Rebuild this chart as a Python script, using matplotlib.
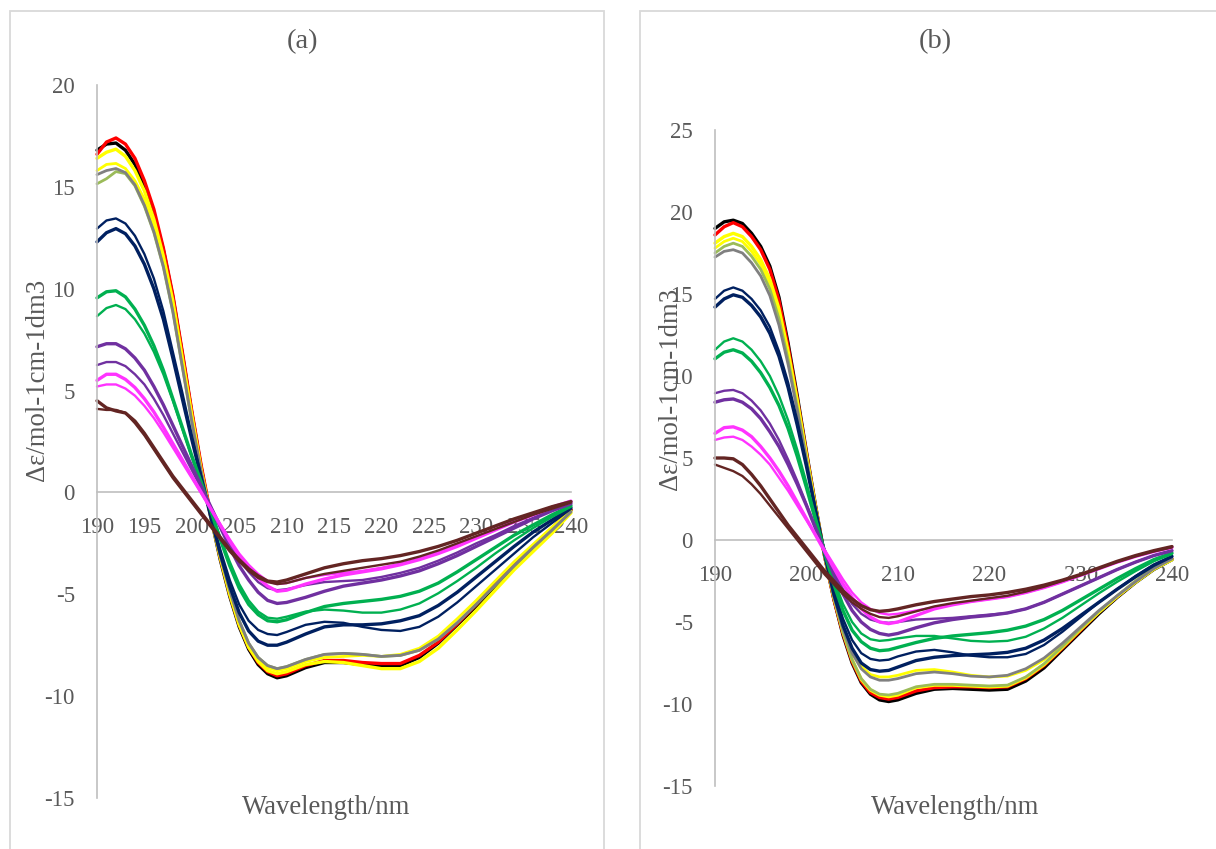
import matplotlib
matplotlib.use("Agg")
import matplotlib.pyplot as plt
from matplotlib.patches import Rectangle

plt.rcParams['font.family'] = ['Liberation Serif', 'DejaVu Serif']
plt.rcParams['axes.unicode_minus'] = False

# ---------------- data ----------------
wavelength = [190, 191, 192, 193, 194, 195, 196, 197, 198, 199, 200, 201, 202, 203, 204, 205,
              206, 207, 208, 209, 210, 212, 214, 216, 218, 220, 222, 224, 226, 228, 230, 232,
              234, 236, 238, 240]

series_names = ["black", "red", "yellow1", "yellow2", "olive", "gray",
                "navy_thin", "navy_thick", "green_thick", "green_thin",
                "purple_thick", "purple_thin", "magenta_thick", "magenta_thin",
                "brown_thick", "brown_thin"]

# panel (a)
a_black = [16.8, 17.1, 17.15, 16.8, 16.1, 15.1, 13.7, 11.9, 9.6, 6.8, 3.9, 1.2, -1.2, -3.3, -5.1, -6.6,
           -7.7, -8.45, -8.9, -9.1, -9.0, -8.6, -8.35, -8.35, -8.45, -8.55, -8.5, -8.1, -7.4, -6.5, -5.6, -4.6,
           -3.6, -2.7, -1.8, -0.85]
a_red = [16.6, 17.2, 17.4, 17.1, 16.4, 15.3, 13.9, 12.0, 9.7, 6.9, 4.0, 1.3, -1.1, -3.2, -5.0, -6.5,
         -7.6, -8.35, -8.8, -9.0, -8.9, -8.5, -8.25, -8.25, -8.35, -8.4, -8.4, -8.0, -7.35, -6.45, -5.5, -4.5,
         -3.55, -2.65, -1.75, -0.85]
a_yellow1 = [16.4, 16.7, 16.85, 16.5, 15.8, 14.8, 13.4, 11.6, 9.4, 6.6, 3.8, 1.1, -1.2, -3.2, -5.0, -6.5,
             -7.6, -8.3, -8.75, -8.9, -8.8, -8.45, -8.3, -8.35, -8.5, -8.65, -8.65, -8.3, -7.65, -6.75, -5.8, -4.8,
             -3.8, -2.9, -2.0, -1.0]
a_yellow2 = [15.8, 16.1, 16.15, 15.9, 15.3, 14.4, 13.0, 11.3, 9.1, 6.4, 3.6, 1.0, -1.2, -3.1, -4.9, -6.4,
             -7.5, -8.2, -8.6, -8.75, -8.65, -8.3, -8.1, -8.05, -8.0, -8.05, -7.95, -7.65, -7.05, -6.2, -5.3, -4.35,
             -3.4, -2.55, -1.7, -0.9]
a_olive = [15.15, 15.4, 15.75, 15.65, 15.05, 14.05, 12.75, 11.05, 8.85, 6.15, 3.45, 0.95, -1.2, -3.1, -4.8, -6.3,
           -7.4, -8.1, -8.5, -8.65, -8.55, -8.2, -7.95, -7.9, -7.95, -8.05, -8.0, -7.75, -7.2, -6.4, -5.5, -4.55,
           -3.6, -2.7, -1.85, -0.95]
a_gray = [15.6, 15.8, 15.9, 15.7, 15.1, 14.1, 12.8, 11.1, 8.9, 6.2, 3.5, 1.0, -1.2, -3.1, -4.8, -6.3,
          -7.4, -8.1, -8.5, -8.65, -8.55, -8.2, -7.95, -7.9, -7.95, -8.05, -8.0, -7.75, -7.2, -6.4, -5.5, -4.55,
          -3.6, -2.7, -1.85, -0.95]
a_navy_thin = [12.95, 13.35, 13.45, 13.2, 12.6, 11.7, 10.5, 8.9, 6.9, 4.9, 2.8, 0.8, -1.1, -2.8, -4.3, -5.5,
               -6.3, -6.75, -6.95, -7.0, -6.85, -6.5, -6.35, -6.4, -6.6, -6.75, -6.8, -6.6, -6.1, -5.4, -4.6, -3.8,
               -3.0, -2.2, -1.5, -0.8]
a_navy_thick = [12.3, 12.75, 12.95, 12.7, 12.1, 11.2, 10.0, 8.5, 6.6, 4.6, 2.6, 0.7, -1.2, -3.0, -4.6, -5.9,
                -6.8, -7.3, -7.5, -7.5, -7.35, -6.95, -6.6, -6.5, -6.5, -6.45, -6.3, -6.05, -5.55, -4.9, -4.15, -3.4,
                -2.65, -1.95, -1.35, -0.75]
a_green_thick = [9.55, 9.85, 9.9, 9.6, 9.0, 8.2, 7.2, 6.0, 4.6, 3.2, 1.8, 0.5, -0.9, -2.3, -3.6, -4.7,
                 -5.5, -6.0, -6.3, -6.35, -6.25, -5.9, -5.6, -5.45, -5.35, -5.25, -5.1, -4.85, -4.45, -3.9, -3.3, -2.7,
                 -2.1, -1.6, -1.1, -0.65]
a_green_thin = [8.65, 9.05, 9.2, 9.0, 8.5, 7.8, 6.9, 5.8, 4.5, 3.1, 1.7, 0.4, -0.9, -2.2, -3.4, -4.5,
                -5.3, -5.85, -6.15, -6.2, -6.1, -5.85, -5.75, -5.8, -5.9, -5.9, -5.75, -5.45, -4.95, -4.35, -3.7, -3.0,
                -2.35, -1.75, -1.2, -0.7]
a_purple_thick = [7.15, 7.3, 7.3, 7.05, 6.6, 6.0, 5.2, 4.3, 3.3, 2.3, 1.3, 0.3, -0.7, -1.7, -2.7, -3.6,
                  -4.3, -4.9, -5.3, -5.45, -5.4, -5.15, -4.85, -4.6, -4.45, -4.3, -4.1, -3.85, -3.5, -3.1, -2.65, -2.2,
                  -1.75, -1.3, -0.9, -0.55]
a_purple_thin = [6.25, 6.4, 6.4, 6.2, 5.8, 5.3, 4.6, 3.8, 2.9, 2.0, 1.1, 0.2, -0.7, -1.6, -2.5, -3.3,
                 -3.9, -4.4, -4.7, -4.8, -4.75, -4.55, -4.4, -4.35, -4.3, -4.15, -3.95, -3.7, -3.35, -2.95, -2.5, -2.1,
                 -1.65, -1.25, -0.85, -0.5]
a_magenta_thick = [5.5, 5.8, 5.8, 5.55, 5.15, 4.6, 3.95, 3.2, 2.4, 1.6, 0.8, 0.0, -0.8, -1.6, -2.4, -3.1,
                   -3.7, -4.2, -4.6, -4.85, -4.8, -4.5, -4.25, -4.05, -3.9, -3.75, -3.55, -3.3, -3.0, -2.65, -2.25, -1.85,
                   -1.45, -1.1, -0.75, -0.45]
a_magenta_thin = [5.2, 5.3, 5.3, 5.1, 4.75, 4.25, 3.65, 2.95, 2.2, 1.45, 0.7, -0.05, -0.8, -1.55, -2.3, -3.0,
                  -3.55, -4.0, -4.35, -4.5, -4.45, -4.2, -4.05, -3.95, -3.85, -3.7, -3.5, -3.25, -2.95, -2.6, -2.2, -1.8,
                  -1.4, -1.05, -0.7, -0.4]
a_brown_thick = [4.5, 4.15, 4.0, 3.9, 3.5, 2.9, 2.2, 1.5, 0.8, 0.2, -0.4, -1.0, -1.6, -2.2, -2.8, -3.3,
                 -3.75, -4.1, -4.35, -4.4, -4.3, -4.0, -3.7, -3.5, -3.35, -3.25, -3.1, -2.9, -2.65, -2.35, -2.0, -1.65,
                 -1.3, -1.0, -0.7, -0.45]
a_brown_thin = [4.1, 4.05, 4.05, 3.9, 3.4, 2.8, 2.1, 1.4, 0.7, 0.1, -0.5, -1.1, -1.7, -2.3, -2.9, -3.4,
                -3.85, -4.2, -4.4, -4.5, -4.45, -4.2, -4.0, -3.85, -3.7, -3.55, -3.4, -3.15, -2.85, -2.5, -2.15, -1.8,
                -1.45, -1.1, -0.8, -0.5]

# panel (b)
b_black = [19.0, 19.4, 19.5, 19.3, 18.7, 17.9, 16.7, 14.8, 12.0, 8.8, 5.4, 2.1, -1.0, -3.6, -5.8, -7.5,
           -8.7, -9.4, -9.75, -9.85, -9.75, -9.35, -9.1, -9.05, -9.1, -9.15, -9.1, -8.6, -7.8, -6.7, -5.6, -4.5,
           -3.5, -2.6, -1.8, -1.2]
b_red = [18.6, 19.1, 19.35, 19.1, 18.5, 17.7, 16.5, 14.6, 11.8, 8.6, 5.3, 2.0, -1.0, -3.6, -5.7, -7.4,
         -8.6, -9.3, -9.6, -9.7, -9.6, -9.2, -9.0, -8.95, -8.95, -9.0, -8.95, -8.45, -7.65, -6.6, -5.5, -4.4,
         -3.45, -2.55, -1.75, -1.15]
b_yellow1 = [18.1, 18.5, 18.7, 18.5, 17.9, 17.1, 15.9, 14.1, 11.5, 8.5, 5.2, 2.0, -1.0, -3.5, -5.6, -7.3,
             -8.5, -9.15, -9.45, -9.55, -9.45, -9.0, -8.85, -8.85, -8.9, -8.95, -8.9, -8.4, -7.6, -6.55, -5.45, -4.4,
             -3.45, -2.55, -1.75, -1.2]
b_yellow2 = [17.8, 18.2, 18.4, 18.2, 17.6, 16.8, 15.6, 13.8, 11.3, 8.3, 5.1, 1.9, -1.0, -3.4, -5.3, -6.8,
             -7.7, -8.2, -8.35, -8.35, -8.25, -7.95, -7.9, -8.05, -8.25, -8.35, -8.3, -7.95, -7.3, -6.4, -5.4, -4.4,
             -3.45, -2.6, -1.8, -1.2]
b_olive = [17.5, 17.9, 18.1, 17.9, 17.3, 16.5, 15.3, 13.5, 11.0, 8.1, 5.0, 1.9, -1.0, -3.5, -5.6, -7.3,
           -8.45, -9.1, -9.4, -9.45, -9.35, -8.95, -8.8, -8.8, -8.85, -8.9, -8.85, -8.35, -7.55, -6.5, -5.4, -4.35,
           -3.4, -2.5, -1.7, -1.15]
b_gray = [17.25, 17.6, 17.7, 17.5, 16.9, 16.1, 14.9, 13.1, 10.7, 7.9, 4.9, 1.8, -1.0, -3.4, -5.4, -6.9,
          -7.85, -8.35, -8.55, -8.55, -8.45, -8.15, -8.05, -8.15, -8.3, -8.35, -8.25, -7.85, -7.2, -6.3, -5.3, -4.3,
          -3.4, -2.55, -1.75, -1.15]
b_navy_thin = [14.7, 15.2, 15.4, 15.2, 14.7, 14.0, 13.0, 11.5, 9.6, 7.3, 4.7, 1.9, -0.8, -3.0, -4.8, -6.1,
               -6.9, -7.25, -7.35, -7.3, -7.1, -6.8, -6.7, -6.85, -7.05, -7.15, -7.15, -6.95, -6.4, -5.6, -4.7, -3.8,
               -3.0, -2.2, -1.5, -1.0]
b_navy_thick = [14.2, 14.7, 14.95, 14.8, 14.3, 13.6, 12.6, 11.2, 9.3, 7.0, 4.5, 1.8, -0.9, -3.3, -5.2, -6.6,
                -7.5, -7.9, -8.0, -7.95, -7.75, -7.35, -7.15, -7.05, -7.0, -6.95, -6.85, -6.6, -6.1, -5.4, -4.6, -3.8,
                -3.0, -2.25, -1.55, -1.0]
b_green_thick = [11.05, 11.45, 11.6, 11.4, 10.9, 10.2, 9.3, 8.2, 6.8, 5.1, 3.2, 1.2, -0.8, -2.7, -4.3, -5.5,
                 -6.2, -6.6, -6.75, -6.7, -6.55, -6.25, -6.0, -5.85, -5.75, -5.65, -5.5, -5.25, -4.85, -4.3, -3.65, -3.0,
                 -2.35, -1.75, -1.2, -0.8]
b_green_thin = [11.6, 12.1, 12.3, 12.1, 11.6, 10.9, 10.0, 8.8, 7.3, 5.5, 3.5, 1.4, -0.6, -2.4, -3.9, -5.0,
                -5.7, -6.05, -6.15, -6.1, -6.0, -5.85, -5.85, -6.0, -6.15, -6.2, -6.15, -5.9, -5.4, -4.75, -4.0, -3.25,
                -2.55, -1.9, -1.3, -0.85]
b_purple_thick = [8.4, 8.55, 8.6, 8.4, 8.0, 7.4, 6.6, 5.7, 4.6, 3.4, 2.1, 0.7, -0.7, -2.1, -3.3, -4.3,
                  -5.0, -5.45, -5.7, -5.8, -5.7, -5.35, -5.05, -4.85, -4.7, -4.6, -4.45, -4.2, -3.8, -3.3, -2.8, -2.3,
                  -1.8, -1.35, -0.95, -0.65]
b_purple_thin = [8.95, 9.1, 9.15, 8.95, 8.5, 7.9, 7.1, 6.1, 4.9, 3.6, 2.2, 0.8, -0.6, -1.9, -3.0, -3.9,
                 -4.5, -4.85, -5.0, -5.05, -5.0, -4.85, -4.8, -4.75, -4.65, -4.55, -4.45, -4.2, -3.8, -3.3, -2.8, -2.3,
                 -1.8, -1.35, -0.95, -0.65]
b_magenta_thick = [6.5, 6.85, 6.9, 6.7, 6.3, 5.7, 5.0, 4.2, 3.3, 2.3, 1.3, 0.3, -0.7, -1.7, -2.7, -3.5,
                   -4.2, -4.7, -5.0, -5.1, -5.0, -4.6, -4.2, -3.95, -3.75, -3.6, -3.45, -3.2, -2.9, -2.55, -2.15, -1.75,
                   -1.35, -1.0, -0.7, -0.45]
b_magenta_thin = [6.1, 6.25, 6.3, 6.1, 5.7, 5.2, 4.6, 3.8, 3.0, 2.1, 1.2, 0.3, -0.6, -1.5, -2.4, -3.2,
                  -3.8, -4.2, -4.45, -4.55, -4.5, -4.3, -4.1, -3.9, -3.75, -3.6, -3.45, -3.2, -2.9, -2.55, -2.15, -1.75,
                  -1.35, -1.0, -0.7, -0.45]
b_brown_thick = [5.0, 5.0, 4.95, 4.6, 4.0, 3.3, 2.5, 1.7, 0.9, 0.2, -0.5, -1.2, -1.9, -2.5, -3.1, -3.6,
                 -4.0, -4.25, -4.35, -4.3, -4.2, -3.95, -3.75, -3.6, -3.45, -3.35, -3.2, -3.0, -2.75, -2.45, -2.1, -1.7,
                 -1.3, -0.95, -0.65, -0.4]
b_brown_thin = [4.6, 4.4, 4.2, 3.9, 3.4, 2.8, 2.1, 1.4, 0.7, 0.0, -0.7, -1.4, -2.1, -2.7, -3.3, -3.8,
                -4.2, -4.5, -4.7, -4.75, -4.65, -4.35, -4.05, -3.85, -3.7, -3.55, -3.4, -3.15, -2.85, -2.5, -2.15, -1.75,
                -1.35, -1.0, -0.7, -0.45]

panel_a_series = [a_black, a_red, a_yellow1, a_yellow2, a_olive, a_gray, a_navy_thin, a_navy_thick,
                  a_green_thick, a_green_thin, a_purple_thick, a_purple_thin, a_magenta_thick,
                  a_magenta_thin, a_brown_thick, a_brown_thin]
panel_b_series = [b_black, b_red, b_yellow1, b_yellow2, b_olive, b_gray, b_navy_thin, b_navy_thick,
                  b_green_thick, b_green_thin, b_purple_thick, b_purple_thin, b_magenta_thick,
                  b_magenta_thin, b_brown_thick, b_brown_thin]

a_yticks = [-15, -10, -5, 0, 5, 10, 15, 20]
b_yticks = [-15, -10, -5, 0, 5, 10, 15, 20, 25]
a_xticks = [190, 195, 200, 205, 210, 215, 220, 225, 230, 235, 240]
b_xticks = [190, 200, 210, 220, 230, 240]
titles = ["(a)", "(b)"]
xlabel = "Wavelength/nm"
ylabel = "Δε/mol-1cm-1dm3"

# ---------------- styles ----------------
styles = {
    "black": ("#000000", 2.4), "red": ("#FF0000", 2.4), "yellow1": ("#FFFF00", 2.4),
    "yellow2": ("#FFFF00", 2.0), "olive": ("#9BBB59", 2.0), "gray": ("#808080", 2.0),
    "navy_thin": ("#002060", 1.7), "navy_thick": ("#002060", 2.4),
    "green_thick": ("#00B050", 2.4), "green_thin": ("#00B050", 1.7),
    "purple_thick": ("#7030A0", 2.4), "purple_thin": ("#7030A0", 1.7),
    "magenta_thick": ("#FF33FF", 2.4), "magenta_thin": ("#FF33FF", 1.7),
    "brown_thick": ("#632523", 2.4), "brown_thin": ("#632523", 1.7),
}

W, H = 1216, 849
TXT = "#595959"
AXC = "#BFBFBF"
TICK_FS = 16.5
LAB_FS = 19.3

fig = plt.figure(figsize=(W / 100, H / 100), dpi=100)


def fx(px):
    return px / W


def fy(py):
    return 1 - py / H


# chart-area borders
fig.add_artist(Rectangle((fx(10), fy(880)), fx(604) - fx(10), fy(11) - fy(880),
                         transform=fig.transFigure, fill=False, edgecolor="#D9D9D9", lw=1.3))
fig.add_artist(Rectangle((fx(640), fy(880)), fx(1260) - fx(640), fy(11) - fy(880),
                         transform=fig.transFigure, fill=False, edgecolor="#D9D9D9", lw=1.3))

panels = [
    dict(series=panel_a_series, left=97, right=571, top=85, bottom=798, ylim=(-15, 20),
         yticks=a_yticks, xticks=a_xticks, title=(303, 42), xlab=(326, 808), ylab=(38, 380)),
    dict(series=panel_b_series, left=715, right=1172, top=130, bottom=786, ylim=(-15, 25),
         yticks=b_yticks, xticks=b_xticks, title=(935, 42), xlab=(955, 808), ylab=(670, 389)),
]

for p, title in zip(panels, titles):
    ax = fig.add_axes([fx(p["left"]), fy(p["bottom"]), fx(p["right"]) - fx(p["left"]),
                       fy(p["top"]) - fy(p["bottom"])])
    ax.set_xlim(190, 240)
    ax.set_ylim(*p["ylim"])
    ax.patch.set_alpha(0)
    for name, vals in zip(series_names, p["series"]):
        c, lw = styles[name]
        ax.plot(wavelength, vals, color=c, lw=lw, solid_joinstyle="round",
                solid_capstyle="round", clip_on=False)
    for s in ["top", "right"]:
        ax.spines[s].set_visible(False)
    ax.spines["left"].set_color(AXC)
    ax.spines["left"].set_linewidth(1.2)
    ax.spines["bottom"].set_position(("data", 0))
    ax.spines["bottom"].set_color(AXC)
    ax.spines["bottom"].set_linewidth(1.2)
    ax.spines["bottom"].set_zorder(0)
    ax.set_yticks(p["yticks"])
    ax.set_xticks(p["xticks"])
    ax.tick_params(axis="y", length=0, pad=16, labelsize=TICK_FS, labelcolor=TXT)
    ax.tick_params(axis="x", length=0, pad=18, labelsize=TICK_FS, labelcolor=TXT)
    fig.text(fx(p["title"][0]), fy(p["title"][1]), title, ha="center", va="center",
             fontsize=20.5, color=TXT)
    fig.text(fx(p["xlab"][0]), fy(p["xlab"][1]), xlabel, ha="center", va="center",
             fontsize=LAB_FS, color=TXT)
    fig.text(fx(p["ylab"][0]), fy(p["ylab"][1]), ylabel, ha="center", va="center",
             rotation=90, fontsize=LAB_FS, color=TXT)

fig.savefig("out.png", dpi=100, facecolor="white")
